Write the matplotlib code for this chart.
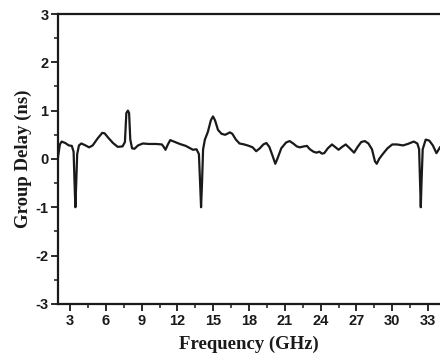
import numpy as np
import matplotlib
matplotlib.use('Agg')
import matplotlib.pyplot as plt
from matplotlib.ticker import MultipleLocator

plt.rcParams['axes.unicode_minus'] = False

## Data

# Frequency (GHz)
freq = [2.0, 2.15, 2.3, 2.6, 2.9, 3.15, 3.3, 3.38, 3.45, 3.52, 3.6, 3.75, 3.95,
        4.3, 4.6, 4.9, 5.3, 5.7, 5.9, 6.2, 6.6, 7.0, 7.4, 7.6, 7.72, 7.85, 7.95,
        8.05, 8.2, 8.4, 8.7, 9.1, 9.6, 10.2, 10.7, 10.85, 11.0, 11.2, 11.4, 11.7,
        12.2, 12.7, 13.0, 13.3, 13.6, 13.8, 13.9, 13.98, 14.06, 14.15, 14.3, 14.55,
        14.8, 14.98, 15.15, 15.4, 15.7, 16.0, 16.4, 16.6, 16.9, 17.2, 17.6, 18.0,
        18.3, 18.6, 18.9, 19.2, 19.45, 19.7, 19.95, 20.2, 20.4, 20.7, 21.1, 21.4,
        21.7, 22.0, 22.25, 22.6, 22.85, 23.1, 23.4, 23.65, 23.9, 24.1, 24.3, 24.6,
        24.95, 25.2, 25.5, 25.8, 26.1, 26.4, 26.8, 27.1, 27.4, 27.7, 28.0, 28.3,
        28.55, 28.7, 28.9, 29.2, 29.6, 30.0, 30.4, 30.9, 31.3, 31.8, 32.1, 32.25,
        32.33, 32.39, 32.45, 32.55, 32.8, 33.1, 33.4, 33.7, 33.95, 34.0]
# Group delay (ns)
delay = [0.05, 0.3, 0.36, 0.33, 0.28, 0.27, 0.15, -0.5, -1.0, -0.5, 0.1, 0.28, 0.32,
         0.28, 0.24, 0.28, 0.42, 0.54, 0.53, 0.44, 0.33, 0.25, 0.26, 0.35, 0.95, 1.0, 0.95,
         0.4, 0.22, 0.21, 0.28, 0.32, 0.31, 0.31, 0.3, 0.25, 0.19, 0.3, 0.39, 0.36,
         0.31, 0.27, 0.23, 0.19, 0.2, 0.1, -0.5, -1.0, -0.5, 0.2, 0.4, 0.56,
         0.8, 0.88, 0.8, 0.6, 0.52, 0.5, 0.55, 0.52, 0.4, 0.32, 0.3, 0.27,
         0.24, 0.16, 0.22, 0.3, 0.33, 0.25, 0.08, -0.1, 0.02, 0.22, 0.34, 0.37,
         0.32, 0.26, 0.24, 0.26, 0.27, 0.2, 0.15, 0.13, 0.15, 0.11, 0.12, 0.22,
         0.3, 0.25, 0.19, 0.25, 0.3, 0.23, 0.13, 0.25, 0.35, 0.37, 0.32, 0.2,
         -0.05, -0.1, 0.0, 0.1, 0.22, 0.3, 0.3, 0.28, 0.31, 0.36, 0.32, 0.2,
         -0.5, -1.0, -0.5, 0.2, 0.4, 0.38, 0.28, 0.12, 0.22, 0.24]

xticks = [3, 6, 9, 12, 15, 18, 21, 24, 27, 30, 33]
yticks = [-3, -2, -1, 0, 1, 2, 3]

##

fig = plt.figure(figsize=(4.4, 3.6), dpi=100)
ax = fig.add_axes([0.132, 0.156, 0.868, 0.805])

ax.plot(freq, delay, color='#1a1a1a', lw=1.6, solid_joinstyle='round')

ax.set_xlim(2, 34)
ax.set_ylim(-3, 3)
ax.set_xticks(xticks)
ax.set_yticks(yticks)
ax.xaxis.set_minor_locator(MultipleLocator(1.5))
ax.yaxis.set_minor_locator(MultipleLocator(0.5))

ax.spines['right'].set_visible(False)
for s in ['left', 'bottom', 'top']:
    ax.spines[s].set_linewidth(1.6)
    ax.spines[s].set_color('#1a1a1a')

ax.tick_params(which='major', direction='out', length=5, width=1.3, pad=2,
               labelsize=10.5, colors='#1a1a1a')
ax.tick_params(which='minor', direction='out', length=3, width=1.1, colors='#1a1a1a')
for lab in ax.get_xticklabels() + ax.get_yticklabels():
    lab.set_family('Liberation Sans')
    lab.set_fontweight('bold')

ax.set_xlabel('Frequency (GHz)', family='Liberation Serif', fontweight='bold',
              fontsize=13.5, labelpad=6, color='#1a1a1a')
ax.set_ylabel('Group Delay (ns)', family='Liberation Serif', fontweight='bold',
              fontsize=13.5, labelpad=2, color='#1a1a1a')

fig.savefig('out.png', dpi=100)
